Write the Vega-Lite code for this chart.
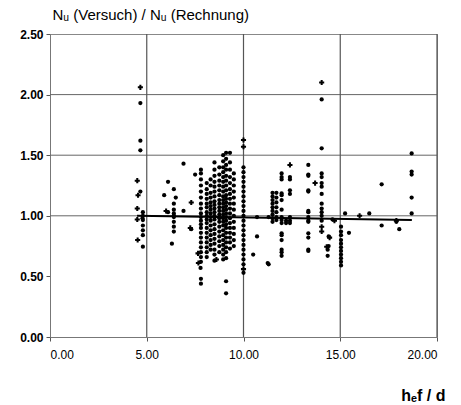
{
  "$schema": "https://vega.github.io/schema/vega-lite/v6.json",
  "width": 387,
  "height": 303,
  "autosize": {"type": "none"},
  "padding": {"left": 50, "top": 34, "right": 24, "bottom": 68},
  "background": "white",
  "config": {
    "view": {"stroke": "#888888", "strokeWidth": 1},
    "font": "Liberation Sans",
    "axis": {"grid": false, "labelFont": "Liberation Sans", "titleFont": "Liberation Sans", "labelColor": "#000", "titleColor": "#000", "tickColor": "#555", "domainColor": "#777"}
  },
  "datasets": {
    "kreis": [
      {"x":4.67,"y":1.93},{"x":4.67,"y":1.62},{"x":4.67,"y":1.54},{"x":4.67,"y":1.2},{"x":4.8,"y":1.03},{"x":4.8,"y":1.0},{"x":4.8,"y":0.965},{"x":4.8,"y":0.92},{"x":4.8,"y":0.88},{"x":4.8,"y":0.84},{"x":4.8,"y":0.745},{"x":4.78,"y":0.98},
      {"x":6.1,"y":1.28},{"x":5.9,"y":1.17},{"x":6.4,"y":1.22},{"x":6.5,"y":1.15},{"x":6.4,"y":1.1},{"x":6.4,"y":1.05},{"x":6.4,"y":1.0},{"x":6.4,"y":0.99},{"x":6.4,"y":0.95},{"x":6.4,"y":0.91},{"x":6.4,"y":0.87},{"x":6.3,"y":0.77},{"x":6.9,"y":1.43},{"x":6.9,"y":1.04},{"x":6.1,"y":1.03},{"x":6.4,"y":1.02},{"x":7.3,"y":0.89},
      {"x":7.5,"y":1.34},{"x":7.8,"y":1.38},{"x":7.8,"y":1.35},{"x":7.8,"y":1.3},{"x":7.8,"y":1.25},{"x":7.8,"y":1.2},{"x":7.8,"y":1.15},{"x":7.8,"y":1.1},{"x":7.8,"y":1.06},{"x":7.8,"y":1.02},{"x":7.8,"y":0.99},{"x":7.8,"y":0.96},{"x":7.8,"y":0.93},{"x":7.8,"y":0.9},{"x":7.8,"y":0.86},{"x":7.8,"y":0.82},{"x":7.8,"y":0.78},{"x":7.8,"y":0.74},{"x":7.8,"y":0.7},{"x":7.8,"y":0.66},{"x":7.8,"y":0.62},{"x":7.78,"y":0.57},{"x":7.8,"y":0.48},{"x":7.8,"y":0.44},
      {"x":8.1,"y":1.27},{"x":8.1,"y":1.22},{"x":8.1,"y":1.18},{"x":8.1,"y":1.14},{"x":8.1,"y":1.1},{"x":8.1,"y":1.07},{"x":8.1,"y":1.03},{"x":8.1,"y":1.0},{"x":8.1,"y":0.97},{"x":8.1,"y":0.94},{"x":8.1,"y":0.9},{"x":8.1,"y":0.86},{"x":8.1,"y":0.82},{"x":8.1,"y":0.78},{"x":8.1,"y":0.74},{"x":8.1,"y":0.7},{"x":8.1,"y":0.66},
      {"x":8.3,"y":1.3},{"x":8.3,"y":1.25},{"x":8.3,"y":1.19},{"x":8.3,"y":1.15},{"x":8.3,"y":1.11},{"x":8.3,"y":1.08},{"x":8.3,"y":1.05},{"x":8.3,"y":1.02},{"x":8.3,"y":0.99},{"x":8.3,"y":0.96},{"x":8.3,"y":0.92},{"x":8.3,"y":0.88},{"x":8.3,"y":0.84},{"x":8.3,"y":0.8},{"x":8.3,"y":0.76},{"x":8.3,"y":0.72},
      {"x":8.5,"y":1.44},{"x":8.5,"y":1.38},{"x":8.5,"y":1.33},{"x":8.5,"y":1.28},{"x":8.5,"y":1.24},{"x":8.5,"y":1.2},{"x":8.5,"y":1.16},{"x":8.5,"y":1.12},{"x":8.5,"y":1.09},{"x":8.5,"y":1.06},{"x":8.5,"y":1.03},{"x":8.5,"y":1.0},{"x":8.5,"y":0.97},{"x":8.5,"y":0.93},{"x":8.5,"y":0.89},{"x":8.5,"y":0.85},{"x":8.5,"y":0.81},{"x":8.5,"y":0.77},{"x":8.5,"y":0.72},{"x":8.5,"y":0.68},{"x":8.5,"y":0.63},
      {"x":8.75,"y":1.4},{"x":8.75,"y":1.34},{"x":8.75,"y":1.29},{"x":8.75,"y":1.25},{"x":8.75,"y":1.21},{"x":8.75,"y":1.17},{"x":8.75,"y":1.13},{"x":8.75,"y":1.1},{"x":8.75,"y":1.07},{"x":8.75,"y":1.04},{"x":8.75,"y":1.01},{"x":8.75,"y":0.98},{"x":8.75,"y":0.95},{"x":8.75,"y":0.91},{"x":8.75,"y":0.87},{"x":8.75,"y":0.83},{"x":8.75,"y":0.79},{"x":8.75,"y":0.75},{"x":8.75,"y":0.7},
      {"x":8.95,"y":1.5},{"x":8.95,"y":1.45},{"x":8.95,"y":1.4},{"x":8.95,"y":1.36},{"x":8.95,"y":1.32},{"x":8.95,"y":1.28},{"x":8.95,"y":1.24},{"x":8.95,"y":1.2},{"x":8.95,"y":1.16},{"x":8.95,"y":1.13},{"x":8.95,"y":1.1},{"x":8.95,"y":1.07},{"x":8.95,"y":1.04},{"x":8.95,"y":1.01},{"x":8.95,"y":0.98},{"x":8.95,"y":0.95},{"x":8.95,"y":0.92},{"x":8.95,"y":0.88},{"x":8.95,"y":0.84},{"x":8.95,"y":0.8},{"x":8.95,"y":0.76},{"x":8.95,"y":0.72},{"x":8.95,"y":0.68},{"x":8.95,"y":0.64},
      {"x":9.1,"y":1.52},{"x":9.1,"y":1.47},{"x":9.1,"y":1.42},{"x":9.1,"y":1.38},{"x":9.1,"y":1.33},{"x":9.1,"y":1.29},{"x":9.1,"y":1.25},{"x":9.1,"y":1.21},{"x":9.1,"y":1.17},{"x":9.1,"y":1.14},{"x":9.1,"y":1.11},{"x":9.1,"y":1.08},{"x":9.1,"y":1.05},{"x":9.1,"y":1.02},{"x":9.1,"y":0.99},{"x":9.1,"y":0.96},{"x":9.1,"y":0.93},{"x":9.1,"y":0.9},{"x":9.1,"y":0.86},{"x":9.1,"y":0.82},{"x":9.1,"y":0.78},{"x":9.1,"y":0.74},{"x":9.1,"y":0.7},{"x":9.1,"y":0.65},{"x":9.1,"y":0.46},{"x":9.1,"y":0.36},
      {"x":9.3,"y":1.52},{"x":9.3,"y":1.44},{"x":9.3,"y":1.38},{"x":9.3,"y":1.32},{"x":9.3,"y":1.27},{"x":9.3,"y":1.22},{"x":9.3,"y":1.18},{"x":9.3,"y":1.14},{"x":9.3,"y":1.1},{"x":9.3,"y":1.06},{"x":9.3,"y":1.02},{"x":9.3,"y":0.98},{"x":9.3,"y":0.94},{"x":9.3,"y":0.9},{"x":9.3,"y":0.86},{"x":9.3,"y":0.82},{"x":9.3,"y":0.78},{"x":9.3,"y":0.73},
      {"x":9.5,"y":1.35},{"x":9.5,"y":1.3},{"x":9.5,"y":1.25},{"x":9.5,"y":1.2},{"x":9.5,"y":1.15},{"x":9.5,"y":1.1},{"x":9.5,"y":1.05},{"x":9.5,"y":1.0},{"x":9.5,"y":0.95},{"x":9.5,"y":0.9},{"x":9.5,"y":0.85},{"x":9.5,"y":0.8},{"x":9.5,"y":0.75},
      {"x":10.0,"y":1.4},{"x":10.0,"y":1.36},{"x":10.0,"y":1.32},{"x":10.0,"y":1.28},{"x":10.0,"y":1.24},{"x":10.0,"y":1.2},{"x":10.0,"y":1.16},{"x":10.0,"y":1.12},{"x":10.0,"y":1.08},{"x":10.0,"y":1.04},{"x":10.0,"y":1.0},{"x":10.0,"y":0.96},{"x":10.0,"y":0.92},{"x":10.0,"y":0.88},{"x":10.0,"y":0.84},{"x":10.0,"y":0.8},{"x":10.0,"y":0.76},{"x":10.0,"y":0.72},{"x":10.0,"y":0.68},{"x":10.0,"y":0.64},{"x":10.0,"y":0.6},{"x":10.0,"y":0.53},
      {"x":10.7,"y":0.83},{"x":10.5,"y":0.68},{"x":10.7,"y":0.99},{"x":11.3,"y":0.6},{"x":11.3,"y":0.99},
      {"x":11.5,"y":1.19},{"x":11.5,"y":1.16},{"x":11.5,"y":1.13},{"x":11.5,"y":1.1},{"x":11.5,"y":1.07},{"x":11.5,"y":1.04},{"x":11.5,"y":1.01},{"x":11.5,"y":0.98},{"x":11.5,"y":0.95},
      {"x":11.7,"y":1.19},{"x":11.7,"y":1.15},{"x":11.7,"y":1.11},{"x":11.7,"y":1.07},{"x":11.7,"y":1.03},{"x":11.7,"y":0.99},{"x":11.7,"y":0.965},
      {"x":11.97,"y":1.35},{"x":11.97,"y":1.32},{"x":11.97,"y":1.3},{"x":11.97,"y":1.185},{"x":11.97,"y":1.17},{"x":11.97,"y":1.13},{"x":11.97,"y":1.05},{"x":11.97,"y":0.99},{"x":11.97,"y":0.965},{"x":11.97,"y":0.94},{"x":11.97,"y":0.855},{"x":11.97,"y":0.84},{"x":11.97,"y":0.8},{"x":11.97,"y":0.72},{"x":11.97,"y":0.7},{"x":11.97,"y":0.67},{"x":12.2,"y":0.96},{"x":12.2,"y":0.94},
      {"x":12.4,"y":1.32},{"x":12.4,"y":1.3},{"x":12.4,"y":1.21},{"x":12.4,"y":1.18},{"x":12.4,"y":0.99},{"x":12.4,"y":0.96},{"x":12.4,"y":0.94},
      {"x":13.35,"y":1.42},{"x":13.35,"y":1.34},{"x":13.35,"y":1.33},{"x":13.35,"y":1.21},{"x":13.35,"y":1.2},{"x":13.35,"y":1.04},{"x":13.35,"y":1.03},{"x":13.35,"y":0.99},{"x":13.35,"y":0.96},{"x":13.35,"y":0.95},{"x":13.35,"y":0.855},{"x":13.35,"y":0.82},{"x":13.35,"y":0.72},{"x":13.35,"y":0.71},
      {"x":14.04,"y":1.96},{"x":14.04,"y":1.557},{"x":14.04,"y":1.35},{"x":14.04,"y":1.32},{"x":14.04,"y":1.27},{"x":14.04,"y":1.24},{"x":14.04,"y":1.18},{"x":14.04,"y":1.1},{"x":14.04,"y":1.06},{"x":14.04,"y":1.03},{"x":14.04,"y":1.0},{"x":14.04,"y":0.96},
      {"x":14.4,"y":0.83},{"x":14.4,"y":0.75},{"x":14.35,"y":0.72},{"x":14.35,"y":0.67},{"x":14.6,"y":0.97},
      {"x":15.04,"y":0.91},{"x":15.04,"y":0.87},{"x":15.04,"y":0.84},{"x":15.04,"y":0.8},{"x":15.04,"y":0.77},{"x":15.04,"y":0.74},{"x":15.04,"y":0.71},{"x":15.04,"y":0.68},{"x":15.04,"y":0.65},{"x":15.04,"y":0.62},{"x":15.04,"y":0.59},
      {"x":15.25,"y":1.02},{"x":15.45,"y":0.86},{"x":16.5,"y":1.02},{"x":17.14,"y":1.26},{"x":17.14,"y":0.92},{"x":17.9,"y":0.95},{"x":18.05,"y":0.89},{"x":18.69,"y":1.515},{"x":18.69,"y":1.365},{"x":18.69,"y":1.34},{"x":18.69,"y":1.15},{"x":18.69,"y":1.02},{"x":11.25,"y":0.61}
    ],
    "kreuz": [
      {"x":4.67,"y":2.06},{"x":4.51,"y":1.29},{"x":4.55,"y":1.17},{"x":4.51,"y":1.06},{"x":4.51,"y":0.97},{"x":4.53,"y":0.8},
      {"x":6.0,"y":1.04},{"x":7.3,"y":1.11},{"x":7.25,"y":0.9},{"x":7.65,"y":0.69},{"x":7.67,"y":0.61},{"x":8.6,"y":0.64},
      {"x":10.0,"y":1.625},{"x":10.0,"y":1.57},{"x":10.0,"y":0.56},
      {"x":12.4,"y":1.42},{"x":13.7,"y":1.27},{"x":14.04,"y":2.1},{"x":14.04,"y":0.91},{"x":14.04,"y":0.87},{"x":14.7,"y":0.96},{"x":14.45,"y":0.82},{"x":14.3,"y":0.745},{"x":16.0,"y":1.0},{"x":17.9,"y":0.96}
    ],
    "gitterY": [{"y":1.0},{"y":1.5},{"y":2.0}],
    "gitterX": [{"x":5},{"x":10},{"x":15},{"x":20}],
    "trend": [{"x":4.5,"y":1.0},{"x":18.7,"y":0.965}]
  },
  "layer": [
    {
      "data": {"name": "gitterY"},
      "mark": {"type": "rule", "color": "#666666", "strokeWidth": 1},
      "encoding": {"y": {"field": "y", "type": "quantitative", "scale": {"domain": [0, 2.5]}}}
    },
    {
      "data": {"name": "gitterX"},
      "mark": {"type": "rule", "color": "#555555", "strokeWidth": 1.2},
      "encoding": {"x": {"field": "x", "type": "quantitative", "scale": {"domain": [0, 20]}}}
    },
    {
      "data": {"name": "kreis"},
      "mark": {"type": "point", "shape": "circle", "filled": true, "color": "#000000", "size": 18, "opacity": 1},
      "encoding": {
        "x": {"field": "x", "type": "quantitative", "scale": {"domain": [0, 20], "nice": false},
          "axis": {"values": [0, 5, 10, 15, 20], "format": ".2f", "labelFontSize": 12, "tickSize": 4, "labelPadding": 8,
            "title": "hₑf / d", "titleFontSize": 16, "titleFontWeight": "bold", "titleAlign": "right", "titleAnchor": null, "titleX": 395, "titleY": 58, "titleBaseline": "middle"}},
        "y": {"field": "y", "type": "quantitative", "scale": {"domain": [0, 2.5], "nice": false},
          "axis": {"values": [0, 0.5, 1, 1.5, 2, 2.5], "format": ".2f", "labelFontSize": 12, "labelFontWeight": "bold", "tickSize": 4, "labelPadding": 3,
            "title": "Nᵤ (Versuch) / Nᵤ (Rechnung)", "titleFontSize": 15, "titleFontWeight": "normal", "titleAngle": 0, "titleAlign": "left", "titleBaseline": "middle", "titleX": 2, "titleY": -20}}
      }
    },
    {
      "data": {"name": "kreuz"},
      "mark": {"type": "point", "shape": "cross", "filled": true, "color": "#000000", "size": 26, "opacity": 1},
      "encoding": {
        "x": {"field": "x", "type": "quantitative"},
        "y": {"field": "y", "type": "quantitative"}
      }
    },
    {
      "data": {"name": "trend"},
      "mark": {"type": "line", "color": "#000000", "strokeWidth": 2},
      "encoding": {
        "x": {"field": "x", "type": "quantitative"},
        "y": {"field": "y", "type": "quantitative"}
      }
    }
  ]
}
